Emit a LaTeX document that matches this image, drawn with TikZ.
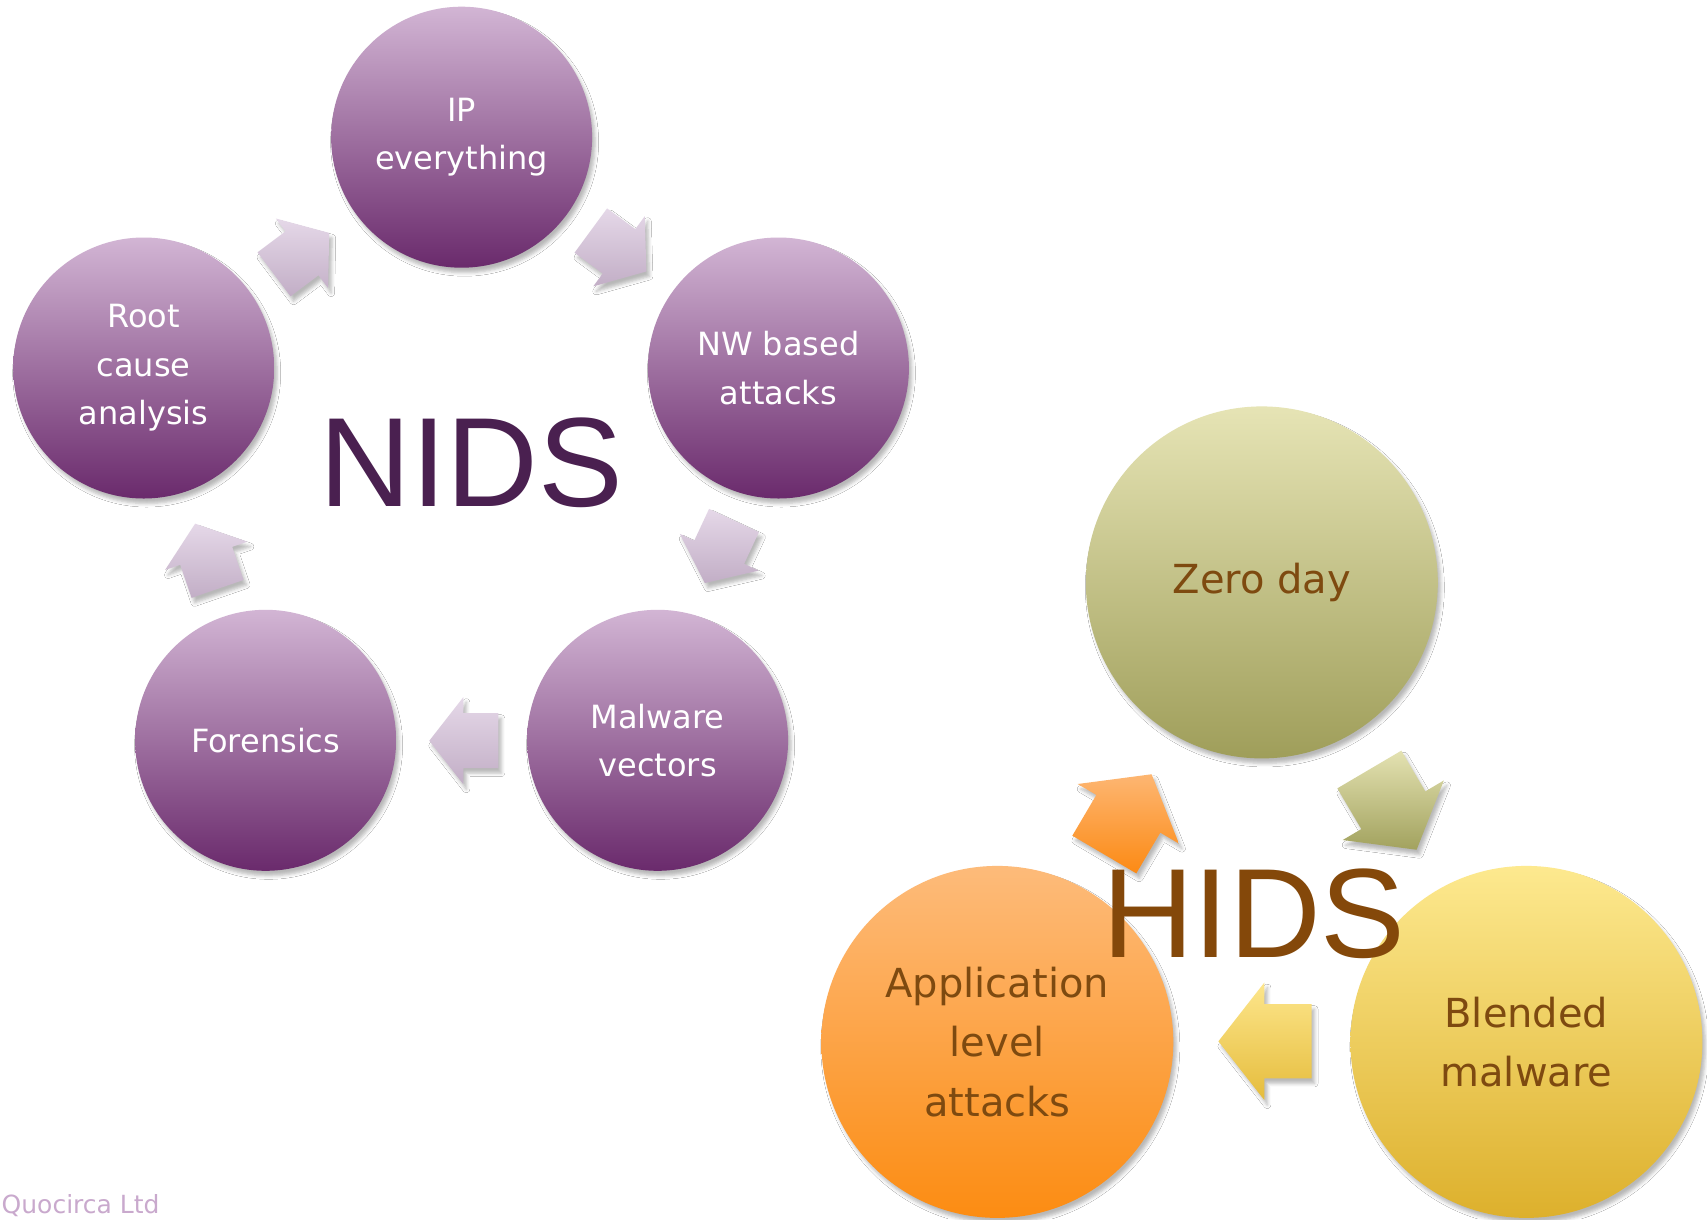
\documentclass[tikz,border=0pt]{standalone}
\usepackage{fontspec}
\newfontfamily\circfont{DejaVu Sans}
\newfontfamily\bigfont{Liberation Sans}
\usetikzlibrary{shadows.blur}
\definecolor{nidsTop}{HTML}{D2B5D4}
\definecolor{nidsMid}{HTML}{A27BA3}
\definecolor{nidsBot}{HTML}{6A2A6C}
\definecolor{zeroTop}{HTML}{E6E4B5}
\definecolor{zeroMid}{HTML}{C6C48A}
\definecolor{zeroBot}{HTML}{9F9E5A}
\definecolor{blendTop}{HTML}{FDE98F}
\definecolor{blendMid}{HTML}{F2D262}
\definecolor{blendBot}{HTML}{DDB02C}
\definecolor{appTop}{HTML}{FDBB7A}
\definecolor{appMid}{HTML}{FDA44E}
\definecolor{appBot}{HTML}{FC8C12}
\definecolor{nidsText}{HTML}{4A2050}
\definecolor{hidsText}{HTML}{84480A}
\definecolor{hidsCirc}{HTML}{7E4A10}
\definecolor{arrNTop}{HTML}{E5D8E8}
\definecolor{arrNBot}{HTML}{C2AEC6}
\definecolor{arrOTop}{HTML}{FDB672}
\definecolor{arrOBot}{HTML}{FC8A14}
\definecolor{arrGTop}{HTML}{E4E2B2}
\definecolor{arrGBot}{HTML}{A2A25E}
\definecolor{arrYTop}{HTML}{FDE68C}
\definecolor{arrYBot}{HTML}{E5BC3C}
\definecolor{quoText}{HTML}{C9A9CD}
% block arrow: x, y (head base midpoint), angle, scale, top colour, bottom colour
\newcommand\blkarrow[6]{%
  \path[arrowshape, top color=#5, bottom color=#6]
    ([shift={(#1,#2)},rotate=#3]-35*#4,-27.5*#4) --
    ([shift={(#1,#2)},rotate=#3]0,-27.5*#4) --
    ([shift={(#1,#2)},rotate=#3]0,-43.5*#4) --
    ([shift={(#1,#2)},rotate=#3]34*#4,0) --
    ([shift={(#1,#2)},rotate=#3]0,43.5*#4) --
    ([shift={(#1,#2)},rotate=#3]0,27.5*#4) --
    ([shift={(#1,#2)},rotate=#3]-35*#4,27.5*#4) -- cycle;}
\begin{document}
\begin{tikzpicture}[x=1pt,y=-1pt,
  softshadow/.style={blur shadow={shadow xshift=3pt, shadow yshift=-5pt, shadow blur radius=3.5pt, shadow opacity=28}},
  arrowshape/.style={softshadow},
  bubble/.style={circle, inner sep=0pt, align=center, softshadow},
  nidsbubble/.style={bubble, minimum size=261pt, top color=nidsTop, middle color=nidsMid, bottom color=nidsBot,
    text=white, font=\circfont\fontsize{32}{48.4}\selectfont},
  hidsbubble/.style={bubble, minimum size=352pt, text=hidsCirc, font=\circfont\fontsize{40}{59.3}\selectfont},
  bigtitle/.style={anchor=base, inner sep=0pt, font=\bigfont\fontsize{127}{127}\selectfont}]
\useasboundingbox[fill=white] (0,0) rectangle (1707,1219);

% NIDS cycle
\node[nidsbubble] (ip)   at (461.6,137.2) {IP\\everything};
\node[nidsbubble] (nw)   at (778.4,368.0) {NW based\\attacks};
\node[nidsbubble] (mal)  at (657.6,740.3) {Malware\\vectors};
\node[nidsbubble] (for)  at (265.6,740.3) {Forensics};
\node[nidsbubble] (root) at (143.7,368.0) {Root\\cause\\analysis};

\blkarrow{302}{253.3}{36.9}{1}{arrNTop}{arrNBot}
\blkarrow{619}{251.3}{-36.3}{1}{arrNTop}{arrNBot}
\blkarrow{719.2}{552.2}{-115}{1}{arrNTop}{arrNBot}
\blkarrow{463.3}{740.7}{180}{1}{arrNTop}{arrNBot}
\blkarrow{206.2}{555.8}{109}{1}{arrNTop}{arrNBot}

\node[bigtitle, text=nidsText] (nids) at (471.7,506.7) {NIDS};

% HIDS cycle
\node[hidsbubble, top color=zeroTop, middle color=zeroMid, bottom color=zeroBot] (zero) at (1261.8,582.4) {\raisebox{-3pt}{Zero day}};
\node[hidsbubble, top color=blendTop, middle color=blendMid, bottom color=blendBot] (blend) at (1526.4,1041.9) {Blended\\malware};
\node[hidsbubble, top color=appTop, middle color=appMid, bottom color=appBot] (app) at (997.3,1041.9) {Application\\level\\attacks};

\blkarrow{1128.3}{813.8}{59.5}{1.35}{arrOTop}{arrOBot}
\blkarrow{1393.3}{810.2}{-59.5}{1.35}{arrGTop}{arrGBot}
\blkarrow{1264.3}{1041.3}{180}{1.35}{arrYTop}{arrYBot}

\node[bigtitle, text=hidsText] (hids) at (1254,957) {HIDS};

\node[anchor=base west, inner sep=0pt, text=quoText, font=\circfont\fontsize{25}{25}\selectfont] (quo) at (1.5,1213) {Quocirca Ltd};
\end{tikzpicture}
\end{document}
